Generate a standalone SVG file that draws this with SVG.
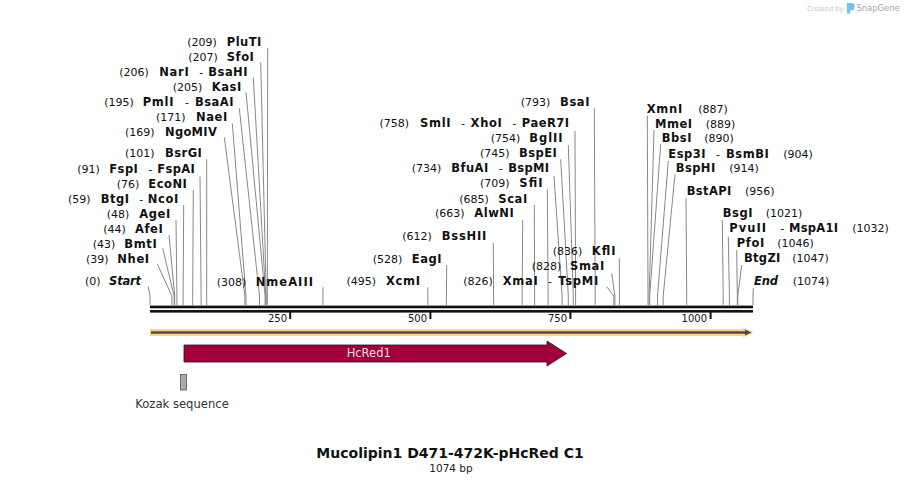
<svg xmlns="http://www.w3.org/2000/svg" width="904" height="485" viewBox="0 0 904 485">
<style>
text{font-family:"DejaVu Sans",Verdana,sans-serif;fill:#111}
.l{font-size:11px}
.b{font-size:11.5px;font-weight:bold}
.bi{font-size:11.5px;font-weight:bold;font-style:italic}
.tk{font-size:10px}
.conn polyline{fill:none;stroke:#888;stroke-width:1}
</style>
<rect width="904" height="485" fill="#fff"/>
<g id="logo">
<text x="807" y="10.5" style="font-size:6.6px;fill:#c4c4c4">Created by</text>
<path d="M847,3 h4.5 a3,3 0 0 1 3,3 v1.5 a3,3 0 0 1 -3,3 h-1.5 v3 h-3 z" fill="#6ec3ee"/>
<text x="856.5" y="11" style="font-size:8.4px;fill:#a8a8a8">SnapGene</text>
</g>
<g id="backbone">
<rect x="150" y="305.6" width="603" height="2.7" fill="#111"/>
<rect x="150" y="310" width="603" height="2.6" fill="#111"/>
<rect x="289.2" y="312" width="2" height="7" fill="#111"/>
<rect x="429.4" y="312" width="2" height="7" fill="#111"/>
<rect x="569.4" y="312" width="2" height="7" fill="#111"/>
<rect x="709.6" y="312" width="2" height="7" fill="#111"/>
<text class="tk" x="287" y="322.3" text-anchor="end">250</text>
<text class="tk" x="427" y="322.3" text-anchor="end">500</text>
<text class="tk" x="567" y="322.3" text-anchor="end">750</text>
<text class="tk" x="707" y="322.3" text-anchor="end">1000</text>
</g>
<g id="feature-backbone">
<path d="M150,332.5 H747" stroke="#fdd386" stroke-width="7" fill="none"/>
<path d="M743,327.5 L753.5,332.5 L743,337.5 Z" fill="#fdd386"/>
<path d="M151,332.5 H746" stroke="#4f4a42" stroke-width="2.5" fill="none"/>
<path d="M745,329.5 L751.5,332.5 L745,335.5 Z" fill="#4f4a42"/>
</g>
<g id="HcRed1">
<path d="M184,345 H547 V341 L566.5,353.5 L547,366 V362 H184 Z" fill="#a1003a" stroke="#2a1018" stroke-width="0.8"/>
<text x="368.7" y="356.7" text-anchor="middle" style="font-size:11.5px;fill:#f4dbe3">HcRed1</text>
</g>
<g id="Kozak">
<rect x="180.5" y="374.5" width="6" height="15.5" fill="#a9abb2" stroke="#555" stroke-width="0.8"/>
<text x="182" y="407.5" text-anchor="middle" style="font-size:11.6px;fill:#333">Kozak sequence</text>
</g>
<g id="title">
<text x="450" y="457.5" text-anchor="middle" style="font-size:14px;font-weight:bold">Mucolipin1 D471-472K-pHcRed C1</text>
<text x="451" y="472" text-anchor="middle" style="font-size:10.5px;fill:#222">1074 bp</text>
</g>
<g class="conn" id="connectors">
<polyline points="267.7,48 267.3,296 267.3,305"/>
<polyline points="260.7,62.3 266.2,296 266.2,305"/>
<polyline points="253.3,77.7 265.7,296 265.7,305"/>
<polyline points="246,92.3 265.1,296 265.1,305"/>
<polyline points="239.3,108.3 259.5,296 259.5,305"/>
<polyline points="232.3,123.3 246,296 246,305"/>
<polyline points="224.3,137.3 244.9,296 244.9,305"/>
<polyline points="206.7,159.3 206.7,296 206.7,305"/>
<polyline points="200,176.7 201.1,296 201.1,305"/>
<polyline points="193.3,190 192.7,296 192.7,305"/>
<polyline points="183.7,205 183.1,296 183.1,305"/>
<polyline points="176,220 176.9,296 176.9,305"/>
<polyline points="169,235 174.7,296 174.7,305"/>
<polyline points="162.7,248.3 174.1,296 174.1,305"/>
<polyline points="157.3,264 171.9,296 171.9,305"/>
<polyline points="148.3,286.7 150,296 150,305"/>
<polyline points="323,287.3 322.9,296 322.9,305"/>
<polyline points="594.3,108.3 595.2,296 595.2,305"/>
<polyline points="575,131 575.6,296 575.6,305"/>
<polyline points="568.3,145 573.3,296 573.3,305"/>
<polyline points="560.7,159.3 568.3,296 568.3,305"/>
<polyline points="554,176 562.1,296 562.1,305"/>
<polyline points="547.3,189.3 548.1,296 548.1,305"/>
<polyline points="534.3,205 534.6,296 534.6,305"/>
<polyline points="522.7,220 522.2,296 522.2,305"/>
<polyline points="493.3,242.7 493.6,296 493.6,305"/>
<polyline points="446.7,265 446.4,296 446.4,305"/>
<polyline points="427.7,287.3 427.9,296 427.9,305"/>
<polyline points="619.3,258.3 619.4,296 619.4,305"/>
<polyline points="611.7,273.3 614.9,296 614.9,305"/>
<polyline points="606.7,286.7 613.8,296 613.8,305"/>
<polyline points="647.3,115.7 648,296 648,305"/>
<polyline points="654,130 649.1,296 649.1,305"/>
<polyline points="660.7,144.3 649.7,296 649.7,305"/>
<polyline points="668.3,161 657.5,296 657.5,305"/>
<polyline points="675,174.3 663.2,296 663.2,305"/>
<polyline points="686,198.3 686.7,296 686.7,305"/>
<polyline points="722.3,220 723.2,296 723.2,305"/>
<polyline points="728.3,236.7 729.4,296 729.4,305"/>
<polyline points="736.7,250 737.3,296 737.3,305"/>
<polyline points="741.7,265 737.8,296 737.8,305"/>
<polyline points="753.3,287.7 753,296 753,305"/>
</g>
<g id="PluTI"><text class="l" x="187.3" y="46">(209)</text><text class="b" x="226.7" y="46" textLength="34.7">PluTI</text></g>
<g id="SfoI"><text class="l" x="188.3" y="61">(207)</text><text class="b" x="226.7" y="61" textLength="27.2">SfoI</text></g>
<g id="NarI"><text class="l" x="119.3" y="76">(206)</text><text class="b" x="159.3" y="76" textLength="29.4">NarI</text><text class="l" x="199.2" y="76">-</text><text class="b" x="208.3" y="76" textLength="39.2">BsaHI</text></g>
<g id="KasI"><text class="l" x="172.7" y="91">(205)</text><text class="b" x="211.7" y="91" textLength="29.6">KasI</text></g>
<g id="PmlI"><text class="l" x="104.3" y="106">(195)</text><text class="b" x="142.7" y="106" textLength="30.8">PmlI</text><text class="l" x="185" y="106">-</text><text class="b" x="195" y="106" textLength="38.5">BsaAI</text></g>
<g id="NaeI"><text class="l" x="156" y="121">(171)</text><text class="b" x="196" y="121" textLength="31.3">NaeI</text></g>
<g id="NgoMIV"><text class="l" x="125" y="136">(169)</text><text class="b" x="165" y="136" textLength="51.8">NgoMIV</text></g>
<g id="BsrGI"><text class="l" x="125" y="157.3">(101)</text><text class="b" x="165" y="157.3" textLength="36.9">BsrGI</text></g>
<g id="FspI"><text class="l" x="77.3" y="172.5">(91)</text><text class="b" x="109.3" y="172.5" textLength="28.6">FspI</text><text class="l" x="148.4" y="172.5">-</text><text class="b" x="157.3" y="172.5" textLength="37.5">FspAI</text></g>
<g id="EcoNI"><text class="l" x="116.7" y="187.5">(76)</text><text class="b" x="148.3" y="187.5" textLength="38.5">EcoNI</text></g>
<g id="BtgI"><text class="l" x="68" y="202.5">(59)</text><text class="b" x="100.7" y="202.5" textLength="28.3">BtgI</text><text class="l" x="139.3" y="202.5">-</text><text class="b" x="147.7" y="202.5" textLength="30.7">NcoI</text></g>
<g id="AgeI"><text class="l" x="106.7" y="217.5">(48)</text><text class="b" x="139.3" y="217.5" textLength="30.9">AgeI</text></g>
<g id="AfeI"><text class="l" x="103.3" y="232.5">(44)</text><text class="b" x="135" y="232.5" textLength="27.7">AfeI</text></g>
<g id="BmtI"><text class="l" x="92.7" y="247.5">(43)</text><text class="b" x="124.3" y="247.5" textLength="32.5">BmtI</text></g>
<g id="NheI"><text class="l" x="86" y="262.5">(39)</text><text class="b" x="117.3" y="262.5" textLength="31.8">NheI</text></g>
<g id="Start"><text class="l" x="85" y="285.3">(0)</text><text class="bi" x="109" y="285.3" textLength="32.1">Start</text></g>
<g id="NmeAIII"><text class="l" x="216.7" y="285.6">(308)</text><text class="b" x="255.7" y="285.6" textLength="57.3">NmeAIII</text></g>
<g id="BsaI"><text class="l" x="520.7" y="105.7">(793)</text><text class="b" x="560" y="105.7" textLength="29.5">BsaI</text></g>
<g id="SmlI"><text class="l" x="379.5" y="126.7">(758)</text><text class="b" x="420.1" y="126.7" textLength="30.5">SmlI</text><text class="l" x="461.1" y="126.7">-</text><text class="b" x="470.6" y="126.7" textLength="31.2">XhoI</text><text class="l" x="512.3" y="126.7">-</text><text class="b" x="521.8" y="126.7" textLength="47.2">PaeR7I</text></g>
<g id="BglII"><text class="l" x="490.7" y="142.3">(754)</text><text class="b" x="529.3" y="142.3" textLength="33.3">BglII</text></g>
<g id="BspEI"><text class="l" x="480" y="156.7">(745)</text><text class="b" x="519" y="156.7" textLength="37.8">BspEI</text></g>
<g id="BfuAI"><text class="l" x="411.7" y="172.3">(734)</text><text class="b" x="451.2" y="172.3" textLength="37">BfuAI</text><text class="l" x="498.7" y="172.3">-</text><text class="b" x="508.2" y="172.3" textLength="40.8">BspMI</text></g>
<g id="SfiI"><text class="l" x="480" y="186.7">(709)</text><text class="b" x="519.3" y="186.7" textLength="23.2">SfiI</text></g>
<g id="ScaI"><text class="l" x="459.3" y="202.7">(685)</text><text class="b" x="498.3" y="202.7" textLength="28.9">ScaI</text></g>
<g id="AlwNI"><text class="l" x="435" y="217.3">(663)</text><text class="b" x="474.3" y="217.3" textLength="39.5">AlwNI</text></g>
<g id="BssHII"><text class="l" x="402.3" y="240">(612)</text><text class="b" x="441.7" y="240" textLength="44.6">BssHII</text></g>
<g id="EagI"><text class="l" x="372.7" y="262.7">(528)</text><text class="b" x="411.7" y="262.7" textLength="29.9">EagI</text></g>
<g id="XcmI"><text class="l" x="346.5" y="285.3">(495)</text><text class="b" x="386" y="285.3" textLength="34.1">XcmI</text></g>
<g id="KflI"><text class="l" x="552.7" y="255">(836)</text><text class="b" x="591.7" y="255" textLength="23.9">KflI</text></g>
<g id="SmaI"><text class="l" x="531.7" y="270">(828)</text><text class="b" x="570" y="270" textLength="34.3">SmaI</text></g>
<g id="XmaI"><text class="l" x="463.3" y="285.3">(826)</text><text class="b" x="502.7" y="285.3" textLength="35">XmaI</text><text class="l" x="548" y="285.3">-</text><text class="b" x="558.3" y="285.3" textLength="39.9">TspMI</text></g>
<g id="XmnI"><text class="b" x="646.7" y="113.3" textLength="35.5">XmnI</text><text class="l" x="698.3" y="113.3">(887)</text></g>
<g id="MmeI"><text class="b" x="655" y="127.7" textLength="37">MmeI</text><text class="l" x="705.7" y="127.7">(889)</text></g>
<g id="BbsI"><text class="b" x="661.7" y="141.7" textLength="29.9">BbsI</text><text class="l" x="704.3" y="141.7">(890)</text></g>
<g id="Esp3I"><text class="b" x="668.3" y="158.3" textLength="37.2">Esp3I</text><text class="l" x="716" y="158.3">-</text><text class="b" x="726" y="158.3" textLength="42.8">BsmBI</text><text class="l" x="783.3" y="158.3">(904)</text></g>
<g id="BspHI"><text class="b" x="675.7" y="171.7" textLength="39.5">BspHI</text><text class="l" x="729.3" y="171.7">(914)</text></g>
<g id="BstAPI"><text class="b" x="686.7" y="195" textLength="44.5">BstAPI</text><text class="l" x="745" y="195">(956)</text></g>
<g id="BsgI"><text class="b" x="722.7" y="216.7" textLength="29.9">BsgI</text><text class="l" x="765.7" y="216.7">(1021)</text></g>
<g id="PvuII"><text class="b" x="729.3" y="231.7" textLength="36.7">PvuII</text><text class="l" x="780.5" y="231.7">-</text><text class="b" x="789" y="231.7" textLength="49.1">MspA1I</text><text class="l" x="852.3" y="231.7">(1032)</text></g>
<g id="PfoI"><text class="b" x="736.7" y="246.7" textLength="27.5">PfoI</text><text class="l" x="777.3" y="246.7">(1046)</text></g>
<g id="BtgZI"><text class="b" x="744" y="261.7" textLength="36.3">BtgZI</text><text class="l" x="792.3" y="261.7">(1047)</text></g>
<g id="End"><text class="bi" x="754" y="285.3" textLength="24.1">End</text><text class="l" x="792.7" y="285.3">(1074)</text></g>
</svg>
